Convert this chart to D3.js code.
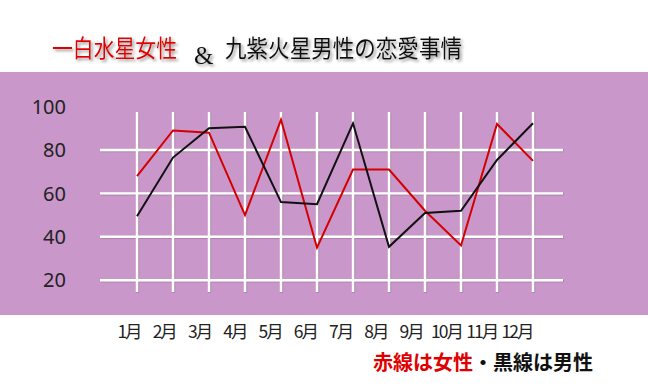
<!DOCTYPE html>
<html><head><meta charset="utf-8">
<script src="https://cdn.jsdelivr.net/npm/d3@7"></script>
<style>
html,body{margin:0;padding:0;background:#fff;}
svg{display:block;}
</style>
</head><body>
<svg id="chart" width="648" height="388"></svg>
<script>
const months = ["1月","2月","3月","4月","5月","6月","7月","8月","9月","10月","11月","12月"];
const female = [68, 89, 88, 50, 94, 35, 71, 71, 52, 36, 92, 75];
const male = [49.5, 76.5, 90, 90.7, 56, 55, 92.3, 35.4, 51, 52, 75.4, 92.3];
const yTicks = [100, 80, 60, 40, 20];
const gridValues = [80, 60, 40, 20];
const titleRed = "一白水星女性";
const titleAmp = "&";
const titleBlack = "九紫火星男性の恋愛事情";
const legendRed = "赤線は女性";
const legendBlack = "・黒線は男性";

const svg = d3.select("#chart");
const defs = svg.append("defs");
const f = defs.append("filter").attr("id","shadow").attr("x","-10%").attr("y","-20%").attr("width","130%").attr("height","160%");
f.append("feDropShadow").attr("dx",2).attr("dy",2).attr("stdDeviation",1.6).attr("flood-color","#777").attr("flood-opacity",0.8);
const gf = defs.append("filter").attr("id","gshadow").attr("x","-5%").attr("y","-5%").attr("width","110%").attr("height","110%");
gf.append("feDropShadow").attr("dx",0.6).attr("dy",0.6).attr("stdDeviation",0.4).attr("flood-color","#8a6a8a").attr("flood-opacity",0.8);

// purple band
svg.append("rect").attr("x",0).attr("y",72).attr("width",648).attr("height",243).attr("fill","#c997c9");

const x = d3.scalePoint().domain(months).range([137, 533]);
const xl = d3.scalePoint().domain(months).range([129, 517]);
const y = d3.scaleLinear().domain([0, 100]).range([323.6, 106.6]);

const grid = svg.append("g").attr("filter","url(#gshadow)");
grid.selectAll("line.h").data(gridValues).join("line")
  .attr("x1",100).attr("x2",563)
  .attr("y1",d=>y(d)).attr("y2",d=>y(d))
  .attr("stroke","#fff").attr("stroke-width",2.4);
grid.selectAll("line.v").data(months).join("line")
  .attr("x1",d=>x(d)).attr("x2",d=>x(d))
  .attr("y1",112).attr("y2",292)
  .attr("stroke","#fff").attr("stroke-width",2.4);

// y labels
svg.append("g").selectAll("text").data(yTicks).join("text")
  .attr("x",66).attr("y",d=>y(d)).attr("dy","0.36em")
  .attr("text-anchor","end")
  .attr("font-family","'Noto Sans', 'Open Sans', sans-serif")
  .attr("font-size",20).attr("fill","#222")
  .text(d=>d);

const line = d3.line().x((d,i)=>x(months[i])).y(d=>y(d));
svg.append("path").datum(female).attr("d",line).attr("fill","none").attr("stroke","#d40000").attr("stroke-width",2).attr("stroke-linejoin","miter");
svg.append("path").datum(male).attr("d",line).attr("fill","none").attr("stroke","#111").attr("stroke-width",2).attr("stroke-linejoin","miter");

// x labels
svg.append("g").selectAll("text").data(months).join("text")
  .attr("x",d=>xl(d)).attr("y",332).attr("dy","0.36em")
  .attr("text-anchor","middle")
  .attr("font-family","'Noto Sans CJK JP', sans-serif")
  .attr("font-size",17.5).attr("letter-spacing",-2).attr("fill","#222")
  .text(d=>d);

// title
const t = svg.append("g").attr("filter","url(#shadow)");
t.append("text").attr("x",52).attr("y",57)
  .attr("font-family","'Noto Sans CJK JP', sans-serif").attr("font-size",24)
  .attr("textLength",125).attr("lengthAdjust","spacingAndGlyphs")
  .attr("fill","#e00000").text(titleRed);
t.append("text").attr("x",194).attr("y",64)
  .attr("font-family","'Liberation Serif', 'DejaVu Serif', serif").attr("font-size",25)
  .attr("fill","#111").text(titleAmp);
t.append("text").attr("x",225).attr("y",57)
  .attr("font-family","'Noto Sans CJK JP', sans-serif").attr("font-size",24)
  .attr("textLength",237).attr("lengthAdjust","spacingAndGlyphs")
  .attr("fill","#111").text(titleBlack);

// legend
const lg = svg.append("text").attr("x",373).attr("y",370)
  .attr("font-family","'Noto Sans CJK JP', sans-serif").attr("font-size",20).attr("font-weight","bold");
lg.append("tspan").attr("fill","#e00000").text(legendRed);
lg.append("tspan").attr("fill","#111").text(legendBlack);
</script>
</body></html>
